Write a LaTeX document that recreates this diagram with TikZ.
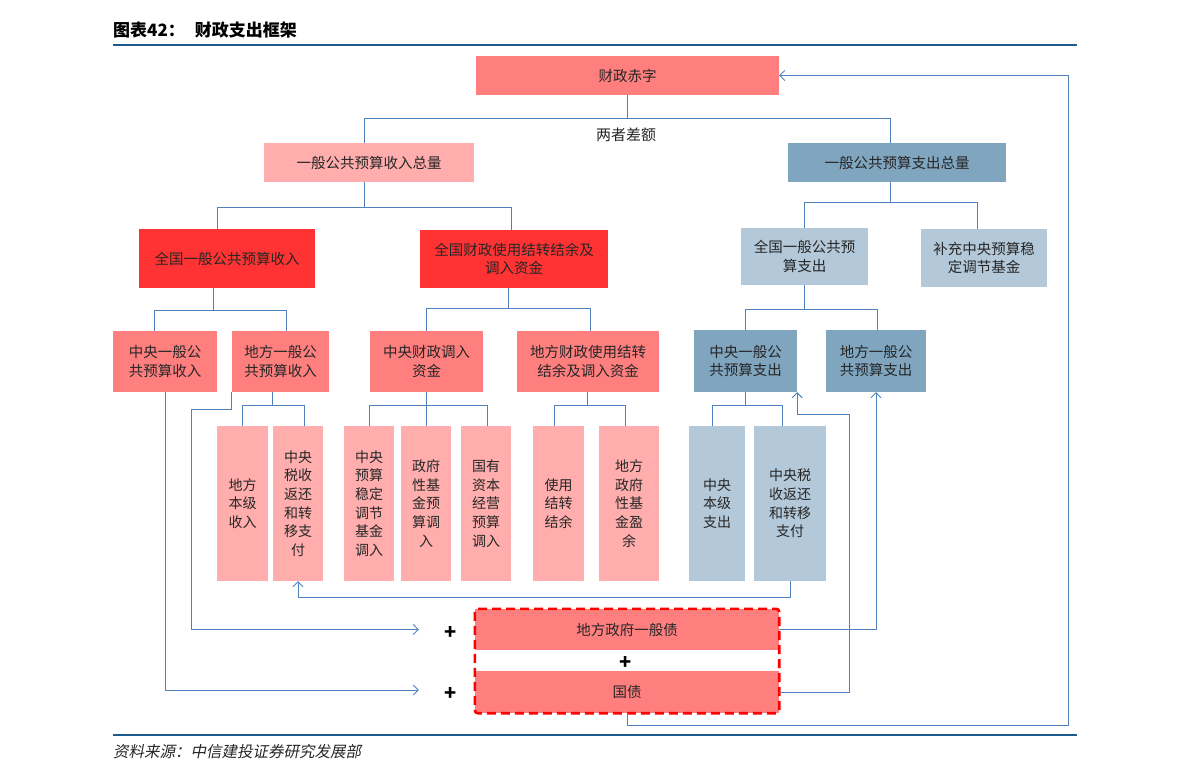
\documentclass[tikz,border=0pt]{standalone}
\usepackage{fontspec}
\setmainfont{Noto Sans CJK SC}
\newfontfamily\srcfont[FakeSlant=0.2]{Noto Sans CJK SC}
\usepackage{tikz}
\usetikzlibrary{calc,arrows.meta}
\definecolor{redm}{HTML}{FF7F7F}
\definecolor{redd}{HTML}{FF3333}
\definecolor{pinkl}{HTML}{FFADAD}
\definecolor{bluem}{HTML}{7FA5BF}
\definecolor{bluel}{HTML}{B3C8D8}
\definecolor{linec}{HTML}{4F81BD}
\definecolor{rulec}{HTML}{1F5A8C}
\definecolor{txtc}{HTML}{262626}
\tikzset{
  bx/.style={inner sep=0pt,align=center,text=txtc,font=\fontsize{14.5}{18.5}\selectfont},
  sz/.style 2 args={minimum width=#1pt,minimum height=#2pt},
  leaf/.style={bx,font=\fontsize{14}{18.7}\selectfont,minimum height=155pt},
  ln/.style={linec,line width=0.9pt},
  arr/.style={ln,-{Straight Barb[length=5pt,width=10pt]}},
  plus/.style={font=\fontsize{20}{20}\selectfont\bfseries,inner sep=0pt}
}
% parent, parent x offset, bus y, list of child/x offset
\newcommand{\fork}[4]{%
  \coordinate (fp) at ($(#1.south)+(#2,0)$);
  \coordinate (fb) at (0,#3);
  \foreach \ch/\dx in {#4}{
    \coordinate (fc) at ($(\ch.north)+(\dx,0)$);
    \draw[ln] (fp) -- (fp |- fb) -| (fc);
  }}

\begin{document}
\begin{tikzpicture}[x=1pt,y=-1pt]
\useasboundingbox (0,0) rectangle (1191,781);
% title and rules
\node[anchor=west,inner sep=0pt,font=\fontsize{17}{17}\selectfont\bfseries] (ttl) at (113,30) {图表42：\hspace{10pt}财政支出框架};
\draw[rulec,line width=2.6pt] (113,45) -- (1077,45);
\draw[rulec,line width=2pt] (113,735) -- (1077,735);
\node[anchor=west,inner sep=0pt,text=txtc,font=\srcfont\fontsize{15.5}{15.5}\selectfont] (src) at (113,752) {资料来源：中信建投证券研究发展部};
% top levels
\node[bx,sz={303}{39},fill=redm] (czcz) at (627.5,75.5) {财政赤字};
\node[bx,font=\fontsize{15}{15}\selectfont] (diff) at (626,135) {两者差额};
\node[bx,sz={210}{39},fill=pinkl] (srzl) at (369,162.5) {一般公共预算收入总量};
\node[bx,sz={218}{39},fill=bluem] (zczl) at (897,162.5) {一般公共预算支出总量};
\node[bx,sz={176}{59},fill=redd] (qgsr) at (227,258.5) {全国一般公共预算收入};
\node[bx,sz={188}{58},fill=redd] (qgjy) at (514,259) {全国财政使用结转结余及\\调入资金};
\node[bx,sz={127}{57},fill=bluel] (qgzc) at (804.5,256.5) {全国一般公共预\\算支出};
\node[bx,sz={126}{58},fill=bluel] (bcjj) at (984,258) {补充中央预算稳\\定调节基金};
% third level
\node[bx,sz={104}{61},fill=redm] (zysr) at (165,361.5) {中央一般公\\共预算收入};
\node[bx,sz={97}{61},fill=redm] (dfsr) at (280.5,361.5) {地方一般公\\共预算收入};
\node[bx,sz={113}{61},fill=redm] (zydr) at (426.5,361.5) {中央财政调入\\资金};
\node[bx,sz={142}{61},fill=redm] (dfjy) at (588,361.5) {地方财政使用结转\\结余及调入资金};
\node[bx,sz={103}{62},fill=bluem] (zyzc) at (745.5,361) {中央一般公\\共预算支出};
\node[bx,sz={100}{62},fill=bluem] (dfzc) at (876,361) {地方一般公\\共预算支出};
% leaves
\node[leaf,minimum width=51pt,fill=pinkl] (l1) at (242.5,503.5) {地方\\本级\\收入};
\node[leaf,minimum width=50pt,fill=pinkl] (l2) at (298,503.5) {中央\\税收\\返还\\和转\\移支\\付};
\node[leaf,minimum width=50pt,fill=pinkl] (l3) at (369,503.5) {中央\\预算\\稳定\\调节\\基金\\调入};
\node[leaf,minimum width=50pt,fill=pinkl] (l4) at (426,503.5) {政府\\性基\\金预\\算调\\入};
\node[leaf,minimum width=50pt,fill=pinkl] (l5) at (486,503.5) {国有\\资本\\经营\\预算\\调入};
\node[leaf,minimum width=51pt,fill=pinkl] (l6) at (558.5,503.5) {使用\\结转\\结余};
\node[leaf,minimum width=60pt,fill=pinkl] (l7) at (629,503.5) {地方\\政府\\性基\\金盈\\余};
\node[leaf,minimum width=56pt,fill=bluel] (l8) at (717,503.5) {中央\\本级\\支出};
\node[leaf,minimum width=72pt,fill=bluel] (l9) at (790,503.5) {中央税\\收返还\\和转移\\支付};
% debt
\node[bx,sz={304}{41},fill=redm] (dfzq) at (627,629.5) {地方政府一般债};
\node[bx,sz={304}{42},fill=redm] (gz) at (627,692) {国债};
\node[plus] (pl1) at (451,633) {+};
\node[plus] (pl2) at (451,694) {+};
\node[plus] (pl3) at (626,663) {+};
\draw[red,line width=2.6pt,dash pattern=on 9pt off 5pt,rounded corners=3pt] (dfzq.north west) rectangle (gz.south east);
% tree lines
\fork{czcz}{0}{118}{srzl/-5,zczl/-7}
\fork{srzl}{-5}{207}{qgsr/-10,qgjy/-3}
\fork{zczl}{-7}{202}{qgzc/0,bcjj/-7}
\fork{qgsr}{-14}{310}{zysr/-11,dfsr/5.5}
\fork{qgjy}{-6}{308}{zydr/0,dfjy/2}
\fork{qgzc}{0}{309}{zyzc/0,dfzc/1}
\fork{dfsr}{-8.5}{405}{l1/0,l2/6}
\fork{zydr}{0}{405}{l3/0,l4/0,l5/1}
\fork{dfjy}{-1}{405}{l6/-4.5,l7/-4}
\fork{zyzc}{0}{405}{l8/-5,l9/-8}
% flows
\draw[arr] (zysr.south) |- ($(gz.west)+(-56,-2)$);
\draw[arr] (dfsr.south west) -- ++(0,17) -- ++(-40,0) |- ($(dfzq.west)+(-56,0)$);
\draw[arr] (l9.south) -- ++(0,16) -| (l2.south);
\draw[arr] (gz.east) -- ++(70,0) -- ++(0,-278) -| (zyzc.south east);
\draw[arr] (dfzq.east) -| (dfzc.south);
\coordinate (rt) at (1068,725);
\draw[arr] (gz.south) |- (rt) |- (czcz.east);
\end{tikzpicture}
\end{document}
